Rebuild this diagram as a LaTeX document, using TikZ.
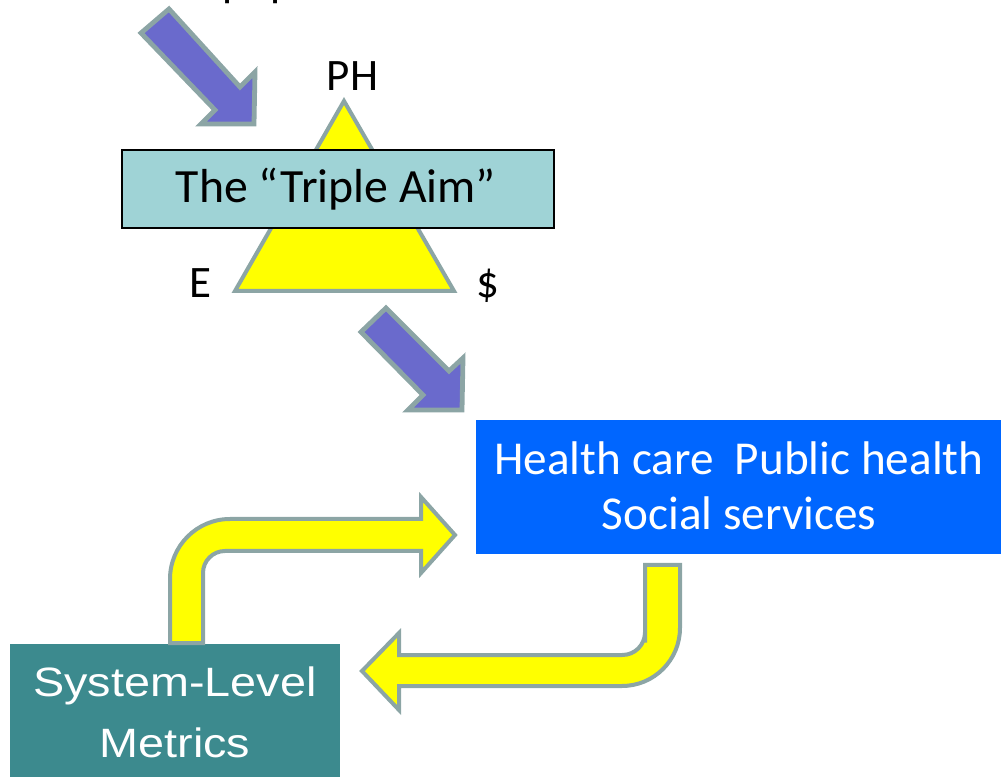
\documentclass[tikz,border=0pt]{standalone}
\usepackage{fontspec}
\setmainfont{Carlito}
\newfontfamily\arialfont{Liberation Sans}
\definecolor{purpfill}{RGB}{106,106,204}
\definecolor{arrowgray}{RGB}{140,165,165}
\definecolor{aimfill}{RGB}{159,211,214}
\definecolor{blueboxfill}{RGB}{0,102,255}
\definecolor{tealfill}{RGB}{60,138,142}
\definecolor{pureyellow}{RGB}{255,255,0}
\tikzset{
  purparrow/.style={fill=purpfill, draw=arrowgray, line width=3.6pt, line join=miter},
  yarrow/.style={fill=pureyellow, draw=arrowgray, line width=3pt, line join=miter},
  tri/.style={fill=pureyellow, draw=arrowgray, line width=3pt, line join=miter},
  lbl/.style={inner sep=0pt, font=\fontsize{33.75pt}{40pt}\selectfont},
  titletxt/.style={inner sep=0pt, font=\fontsize{35.8pt}{42pt}\selectfont},
  bluetxt/.style={inner sep=0pt, text=white, align=center, font=\fontsize{35.4pt}{41.25pt}\selectfont},
  tealtxt/.style={inner sep=0pt, text=white, align=center, font=\arialfont\fontsize{30.75pt}{45.75pt}\selectfont},
}
\begin{document}
\begin{tikzpicture}[x=0.75pt, y=-0.75pt]
\useasboundingbox (0,0) rectangle (1001,777);
% cut-off text at top
\node[lbl, anchor=base west] (pop) at (222.6,-3) {population};
% purple arrows
\draw[purparrow] (141,33) -- (169,9) -- (240,87) -- (255,72) -- (254,124) -- (201,124) -- (215,110) -- cycle;
\draw[purparrow] (361,332) -- (386,308) -- (449,371) -- (463,358) -- (462,410) -- (408,410) -- (423,395) -- cycle;
% triangle
\draw[tri] (235,291) -- (344,101) -- (454,291) -- cycle;
% Triple Aim box
\node[draw=black, line width=1.5pt, fill=aimfill, minimum width=432*0.75pt, minimum height=78*0.75pt, inner sep=0pt, anchor=north west] (aimbox) at (121,149) {};
\node[titletxt, anchor=base] (aim) at (336,203) {The “Triple Aim”};
\node[lbl, anchor=base] (ph) at (352.5,91) {PH};
\node[lbl, anchor=base] (e) at (200.5,298) {E};
\node[lbl, anchor=base] (dollar) at (488,298) {\$};
% blue box
\node[fill=blueboxfill, minimum width=540*0.75pt, minimum height=134*0.75pt, inner sep=0pt, anchor=north west] (bluebox) at (476,420) {};
\node[bluetxt, anchor=base] (bluetext) at (739,530) {Health care\ \ Public health\\Social services};
% teal box
\node[fill=tealfill, minimum width=330*0.75pt, minimum height=150*0.75pt, inner sep=0pt, anchor=north west] (tealbox) at (10,644) {};
\node[tealtxt, anchor=base] (tealtext) at (175,757) {\scalebox{1.14}[1]{System-Level}\\\scalebox{1.14}[1]{Metrics}};
% yellow bent arrows
\draw[yarrow] (170,643) -- (170,600) [rounded corners=45pt] -- (170,519) -- (300,519) [sharp corners] -- (421,519) -- (421,497) -- (455,535) -- (421,573) -- (421,551) -- (300,551) [rounded corners=16.5pt] -- (203,551) -- (203,600) [sharp corners] -- (203,643) -- cycle;
\draw[yarrow] (645,565) -- (680,565) -- (680,620) [rounded corners=43.5pt] -- (680,686) -- (500,686) [sharp corners] -- (399,686) -- (399,710) -- (362,671) -- (399,633) -- (399,655) -- (500,655) [rounded corners=17pt] -- (645,655) -- (645,620) [sharp corners] -- cycle;
\end{tikzpicture}
\end{document}
